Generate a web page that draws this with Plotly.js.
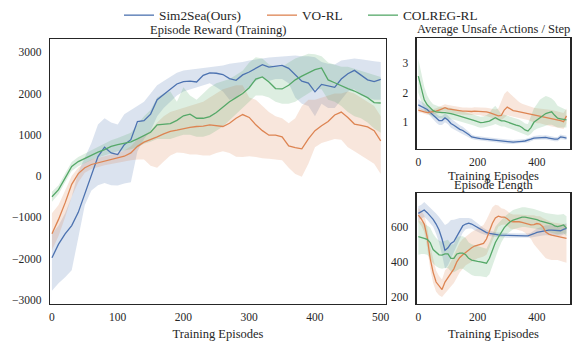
<!DOCTYPE html>
<html>
<head>
<meta charset="utf-8">
<script src="https://cdn.plot.ly/plotly-3.0.1.min.js"></script>
<style>html,body{margin:0;padding:0;background:#fff;}#chart{width:582px;height:341px;}</style>
</head>
<body>
<div id="chart"></div>
<script>
// ---------- data ----------
const episodes = [0,10,20,30,40,50,60,70,80,90,100,110,120,130,140,150,160,170,180,190,200,210,220,230,240,250,260,270,280,290,300,310,320,330,340,350,360,370,380,390,400,410,420,430,440,450,460,470,480,490,500];

const seriesNames = ['Sim2Sea(Ours)', 'VO-RL', 'COLREG-RL'];

// Episode Reward (Training)
const rewardSim2SeaMean = [-1980,-1650,-1400,-1200,-880,-420,30,470,700,560, 520,760,880,1320,1340,1500,1850,1980,2100,2230, 2290,2300,2280,2440,2500,2490,2460,2360,2320,2450, 2520,2620,2700,2640,2660,2680,2610,2450,2300,2250, 2040,2220,2180,2150,2350,2480,2560,2450,2330,2290, 2340];
const rewardSim2SeaLow  = [-2780,-2600,-2450,-2280,-1500,-700,-350,-220,-170,-220, -230,-180,-150,600,900,1100,1450,1650,1800,1950, 2050,2100,2150,2200,2250,2150,2050,1850,1900,2050, 2150,2300,2400,2300,2350,2350,2250,1900,1750,1700, 1450,1750,1650,1650,1850,2050,2100,1950,1900,1850, 1850];
const rewardSim2SeaHigh = [-1400,-1200,-900,-500,100,450,800,1250,1400,1300, 1250,1500,1600,1700,1800,2000,2200,2300,2400,2500, 2560,2580,2600,2620,2640,2660,2680,2720,2740,2760, 2800,2830,2850,2870,2880,2900,2900,2920,2900,2900, 2880,2760,2720,2700,2800,2830,2850,2830,2800,2780, 2760];

const rewardVoMean = [-1400,-1050,-650,-200,60,200,280,320,360,400, 440,480,560,720,820,880,950,1020,1080,1110, 1150,1180,1200,1210,1240,1220,1200,1280,1400,1490, 1420,1240,1100,990,990,950,730,690,660,900, 1100,1220,1320,1480,1550,1420,1260,1230,1190,1100, 850];
const rewardVoLow  = [-1800,-1450,-1000,-500,-150,80,170,220,260,290, 320,360,380,400,400,250,200,350,500,570, 560,520,520,500,500,560,600,560,470,460, 480,460,430,420,400,380,200,50,-20,300, 700,800,850,900,880,700,600,500,400,300, 50];
const rewardVoHigh = [-900,-700,-350,0,200,320,400,440,470,510, 560,620,720,900,1000,1100,1300,1450,1550,1600, 1650,1700,1750,1800,1900,2000,2100,2150,2200,2200, 1900,1850,1700,1550,1450,1400,1280,1400,1700,1850, 1850,1900,1950,2000,2000,2050,2000,1900,1800,1700, 1450];

const rewardColregMean = [-500,-330,-50,230,350,430,510,580,640,720, 760,800,830,900,980,1060,1240,1260,1270,1350, 1460,1500,1400,1400,1440,1540,1680,1800,1900,2000, 2140,2350,2400,2280,2120,2110,2200,2330,2420,2500, 2580,2620,2330,2260,2180,2120,2060,1980,1900,1780, 1770];
const rewardColregLow  = [-620,-440,-150,120,240,320,390,450,500,560, 600,620,650,700,780,830,900,900,900,950, 1000,1000,950,950,1000,1100,1200,1350,1500,1650, 1800,1950,1950,1900,1800,1750,1750,1800,1900,2000, 2100,2100,1850,1800,1700,1550,1450,1400,1300,1150, 1050];
const rewardColregHigh = [-380,-220,60,340,460,540,630,710,780,870, 920,980,1050,1250,1450,1600,1900,2000,2050,1800, 2150,1950,1850,2000,2150,2250,2300,2350,2450,2550, 2750,2880,2850,2700,2650,2650,2750,2850,2900,2960, 2950,2900,2750,2700,2650,2650,2600,2550,2500,2450, 2400];

// Average Unsafe Actions / Step
const unsafeSim2SeaMean = [1.58,1.52,1.47,1.42,1.32,1.22,1.12,1.04,1.04,1.13, 1.06,0.94,0.88,0.80,0.74,0.70,0.64,0.56,0.48,0.45, 0.44,0.42,0.41,0.40,0.39,0.38,0.36,0.35,0.34,0.32, 0.31,0.30,0.30,0.31,0.31,0.33,0.34,0.36,0.40,0.44, 0.45,0.46,0.45,0.46,0.44,0.41,0.40,0.40,0.48,0.46, 0.44];
const unsafeSim2SeaLow  = [1.46,1.40,1.35,1.30,1.20,1.07,0.97,0.89,0.89,0.98, 0.91,0.79,0.73,0.66,0.60,0.57,0.52,0.46,0.41,0.38, 0.37,0.35,0.34,0.33,0.32,0.31,0.29,0.28,0.27,0.25, 0.24,0.24,0.24,0.25,0.25,0.27,0.28,0.29,0.33,0.37, 0.38,0.39,0.38,0.39,0.37,0.34,0.33,0.33,0.40,0.39, 0.37];
const unsafeSim2SeaHigh = [1.78,1.70,1.62,1.56,1.46,1.38,1.28,1.20,1.20,1.28, 1.21,1.09,1.03,0.95,0.88,0.83,0.76,0.66,0.56,0.52, 0.51,0.49,0.48,0.47,0.46,0.45,0.43,0.42,0.41,0.39, 0.38,0.37,0.37,0.38,0.38,0.40,0.41,0.43,0.47,0.51, 0.53,0.54,0.53,0.54,0.52,0.49,0.48,0.48,0.56,0.54, 0.52];

const unsafeVoMean = [1.40,1.38,1.34,1.31,1.32,1.34,1.36,1.40,1.44,1.48, 1.44,1.42,1.40,1.38,1.37,1.36,1.36,1.35,1.35,1.36, 1.36,1.35,1.34,1.34,1.31,1.28,1.24,1.20,1.22,1.40, 1.50,1.44,1.38,1.36,1.34,1.32,1.30,1.28,1.26,1.22, 1.20,1.20,1.18,1.16,1.14,1.10,1.08,1.06,1.04,1.00, 1.20];
const unsafeVoLow  = [1.32,1.31,1.27,1.24,1.24,1.25,1.27,1.30,1.33,1.36, 1.32,1.30,1.28,1.26,1.25,1.24,1.24,1.23,1.23,1.24, 1.24,1.22,1.20,1.20,1.16,1.12,1.08,1.04,1.05,1.15, 1.22,1.20,1.18,1.16,1.14,1.12,1.10,1.06,1.02,0.98, 0.95,0.95,0.92,0.88,0.86,0.84,0.82,0.80,0.78,0.75, 0.95];
const unsafeVoHigh = [1.48,1.46,1.42,1.39,1.40,1.43,1.46,1.51,1.56,1.60, 1.57,1.55,1.53,1.51,1.50,1.49,1.49,1.48,1.48,1.50, 1.50,1.49,1.48,1.48,1.46,1.44,1.42,1.45,1.70,1.95, 2.05,1.95,1.85,1.75,1.68,1.62,1.58,1.55,1.52,1.48, 1.46,1.45,1.44,1.44,1.42,1.40,1.38,1.36,1.34,1.30, 1.45];

const unsafeColregMean = [2.56,2.15,1.75,1.58,1.46,1.38,1.34,1.32,1.31,1.31, 1.30,1.28,1.25,1.22,1.19,1.17,1.15,1.12,1.08,1.04, 1.00,0.97,0.98,1.00,1.02,1.08,1.14,1.08,1.03,1.03, 1.00,0.96,0.92,0.88,0.86,0.80,0.72,0.68,0.80,0.98, 1.05,1.15,1.22,1.28,1.31,1.34,1.22,1.12,1.10,1.08, 1.06];
const unsafeColregLow  = [2.00,1.70,1.40,1.30,1.22,1.16,1.14,1.13,1.12,1.12, 1.11,1.10,1.07,1.04,1.01,0.99,0.97,0.94,0.90,0.86, 0.82,0.79,0.80,0.82,0.84,0.88,0.92,0.88,0.84,0.84, 0.80,0.76,0.72,0.68,0.66,0.62,0.56,0.52,0.58,0.70, 0.76,0.80,0.84,0.88,0.90,0.90,0.86,0.80,0.80,0.80, 0.80];
const unsafeColregHigh = [3.15,2.65,2.20,1.90,1.72,1.60,1.55,1.52,1.50,1.50, 1.49,1.47,1.44,1.41,1.38,1.36,1.34,1.31,1.27,1.24, 1.20,1.17,1.18,1.22,1.30,1.45,1.55,1.40,1.26,1.24, 1.21,1.18,1.14,1.10,1.08,1.02,0.94,0.92,1.20,1.45, 1.60,1.75,1.82,1.88,1.85,1.80,1.70,1.55,1.50,1.45, 1.40];

// Episode Length
const lengthSim2SeaMean = [676,685,695,680,660,642,615,581,530,465, 480,505,515,545,575,605,615,620,615,605, 592,582,575,566,562,558,555,553,552,551, 550,550,550,549,548,548,548,548,552,560, 568,572,576,580,580,581,580,578,577,585, 591];
const lengthSim2SeaLow  = [636,645,655,640,620,600,560,510,440,360, 380,420,450,490,530,565,585,590,590,580, 570,562,557,550,547,544,542,540,539,538, 537,537,537,536,535,535,535,535,538,542, 546,548,550,552,552,553,552,550,549,556, 562];
const lengthSim2SeaHigh = [716,725,740,725,705,690,675,655,630,610, 620,638,640,645,650,650,650,650,645,632, 614,602,593,582,577,572,569,567,565,564, 563,563,563,562,561,561,561,561,566,578, 590,596,602,608,608,609,608,606,605,614, 620];

const lengthVoMean = [666,645,615,540,420,340,285,260,242,285, 310,330,360,400,425,440,455,470,480,490, 495,497,505,530,580,620,650,660,655,655, 645,630,628,630,628,625,620,615,610,612, 618,615,600,570,558,552,548,544,540,536, 534];
const lengthVoLow  = [626,605,570,480,360,280,230,210,200,220, 240,260,280,310,340,360,380,390,400,410, 420,425,430,440,480,530,570,600,610,612, 605,590,585,585,580,575,565,550,530,500, 480,460,440,420,415,410,410,410,405,400, 395];
const lengthVoHigh = [706,690,665,600,490,410,350,320,300,350, 370,400,440,480,510,530,545,560,570,580, 590,600,610,640,680,710,725,720,705,700, 690,675,670,672,670,668,665,665,665,665, 660,660,650,640,630,625,622,620,618,615, 612];

const lengthColregMean = [543,540,534,528,510,470,452,440,438,445, 445,420,420,445,450,450,440,420,410,405, 402,400,395,392,420,470,510,540,570,595, 612,628,638,645,650,655,655,652,650,647, 640,633,628,625,620,615,605,600,605,610, 592];
const lengthColregLow  = [440,445,445,440,420,390,375,365,360,365, 365,345,340,350,360,360,350,335,325,320, 320,318,315,312,330,380,430,470,510,540, 560,575,585,590,595,598,598,596,594,592, 588,584,580,575,570,565,560,555,558,562, 545];
const lengthColregHigh = [640,630,620,610,595,560,535,520,515,520, 525,500,500,540,545,545,535,510,500,495, 490,485,480,475,510,560,600,620,640,655, 670,685,695,700,705,710,710,708,705,700, 695,688,682,678,675,672,670,668,670,672, 660];

const rewardTicks = [-3000,-2000,-1000,0,1000,2000,3000];
const unsafeTicks = [1,2,3];
const lengthTicks = [200,400,600];
const mainXTicks = [0,100,200,300,400,500];
const sideXTicks = [0,200,400];

// ---------- styling ----------
const lineColors = ['#4c72b0', '#dd8452', '#55a868'];
const bandColors = ['rgba(76,114,176,0.2)', 'rgba(221,132,82,0.2)', 'rgba(85,168,104,0.2)'];
const FONT = "'Liberation Serif', 'Times New Roman', 'DejaVu Serif', serif";
const TXT = '#262626';
const legendIds = ['legend', 'legend2', 'legend3'];

const panels = [
  {xa: 'x',  ya: 'y',  data: [[rewardSim2SeaMean,rewardSim2SeaLow,rewardSim2SeaHigh],[rewardVoMean,rewardVoLow,rewardVoHigh],[rewardColregMean,rewardColregLow,rewardColregHigh]]},
  {xa: 'x2', ya: 'y2', data: [[unsafeSim2SeaMean,unsafeSim2SeaLow,unsafeSim2SeaHigh],[unsafeVoMean,unsafeVoLow,unsafeVoHigh],[unsafeColregMean,unsafeColregLow,unsafeColregHigh]]},
  {xa: 'x3', ya: 'y3', data: [[lengthSim2SeaMean,lengthSim2SeaLow,lengthSim2SeaHigh],[lengthVoMean,lengthVoLow,lengthVoHigh],[lengthColregMean,lengthColregLow,lengthColregHigh]]}
];

const traces = [];
panels.forEach(function(p, pi) {
  p.data.forEach(function(s, si) {
    traces.push({x: episodes, y: s[1], xaxis: p.xa, yaxis: p.ya, mode: 'lines', line: {width: 0, color: bandColors[si]}, showlegend: false, hoverinfo: 'skip'});
    traces.push({x: episodes, y: s[2], xaxis: p.xa, yaxis: p.ya, mode: 'lines', line: {width: 0, color: bandColors[si]}, fill: 'tonexty', fillcolor: bandColors[si], showlegend: false, hoverinfo: 'skip'});
  });
  p.data.forEach(function(s, si) {
    traces.push({x: episodes, y: s[0], xaxis: p.xa, yaxis: p.ya, mode: 'lines', name: seriesNames[si], legend: legendIds[si], line: {width: 1.3, color: lineColors[si]}, showlegend: pi === 0});
  });
});

function axisBase(extra) {
  return Object.assign({
    showline: true, mirror: true, linecolor: '#262626', linewidth: 1.25,
    showgrid: false, zeroline: false, ticks: '', ticklabelstandoff: 5,
    tickfont: {family: FONT, size: 11.5, color: TXT}
  }, extra);
}
const xTitle = {text: 'Training Episodes', font: {family: FONT, size: 12.5, color: TXT}};
const annFont = {family: FONT, size: 12.5, color: TXT};
function legendAt(px) {
  return {orientation: 'h', x: px / 582, xanchor: 'left', y: 1, yanchor: 'top',
          font: {family: FONT, size: 13.3, color: TXT}, itemwidth: 30, bgcolor: 'rgba(0,0,0,0)'};
}

const layout = {
  width: 582, height: 341,
  margin: {l: 0, r: 0, t: 0, b: 0},
  paper_bgcolor: '#fff', plot_bgcolor: '#fff',
  font: {family: FONT, color: TXT},
  showlegend: true,
  legend: legendAt(119),
  legend2: legendAt(262),
  legend3: legendAt(363),
  xaxis:  axisBase({domain: [0.0859, 0.6632], range: [-3, 508], tickvals: mainXTicks, anchor: 'y', title: xTitle, ticklabelstandoff: 2}),
  yaxis:  axisBase({domain: [0.1085, 0.8856], range: [-3100, 3320], tickvals: rewardTicks, anchor: 'x'}),
  xaxis2: axisBase({domain: [0.716, 0.980], range: [-5.4, 513], tickvals: sideXTicks, anchor: 'y2', ticklabelstandoff: 2}),
  yaxis2: axisBase({domain: [0.5639, 0.8877], range: [0.075, 3.86], tickvals: unsafeTicks, anchor: 'x2'}),
  xaxis3: axisBase({domain: [0.716, 0.980], range: [-5.4, 513], tickvals: sideXTicks, anchor: 'y3', title: xTitle, ticklabelstandoff: 2}),
  yaxis3: axisBase({domain: [0.1085, 0.4331], range: [160, 790], tickvals: lengthTicks, anchor: 'x3'}),
  annotations: [
    {text: 'Episode Reward (Training)', xref: 'x domain', yref: 'y domain', x: 0.5, y: 1, xanchor: 'center', yanchor: 'bottom', showarrow: false, font: annFont},
    {text: 'Average Unsafe Actions / Step', xref: 'x2 domain', yref: 'y2 domain', x: 0.5, y: 1, xanchor: 'center', yanchor: 'bottom', showarrow: false, font: annFont},
    {text: 'Training Episodes', xref: 'x2 domain', yref: 'y2 domain', x: 0.5, y: 0, xanchor: 'center', yanchor: 'middle', yshift: -27, showarrow: false, font: annFont},
    {text: 'Episode Length', xref: 'x3 domain', yref: 'y3 domain', x: 0.5, y: 1, xanchor: 'center', yanchor: 'bottom', yshift: -1, showarrow: false, font: annFont}
  ]
};

Plotly.newPlot('chart', traces, layout, {displayModeBar: false, staticPlot: true});
</script>
</body>
</html>
